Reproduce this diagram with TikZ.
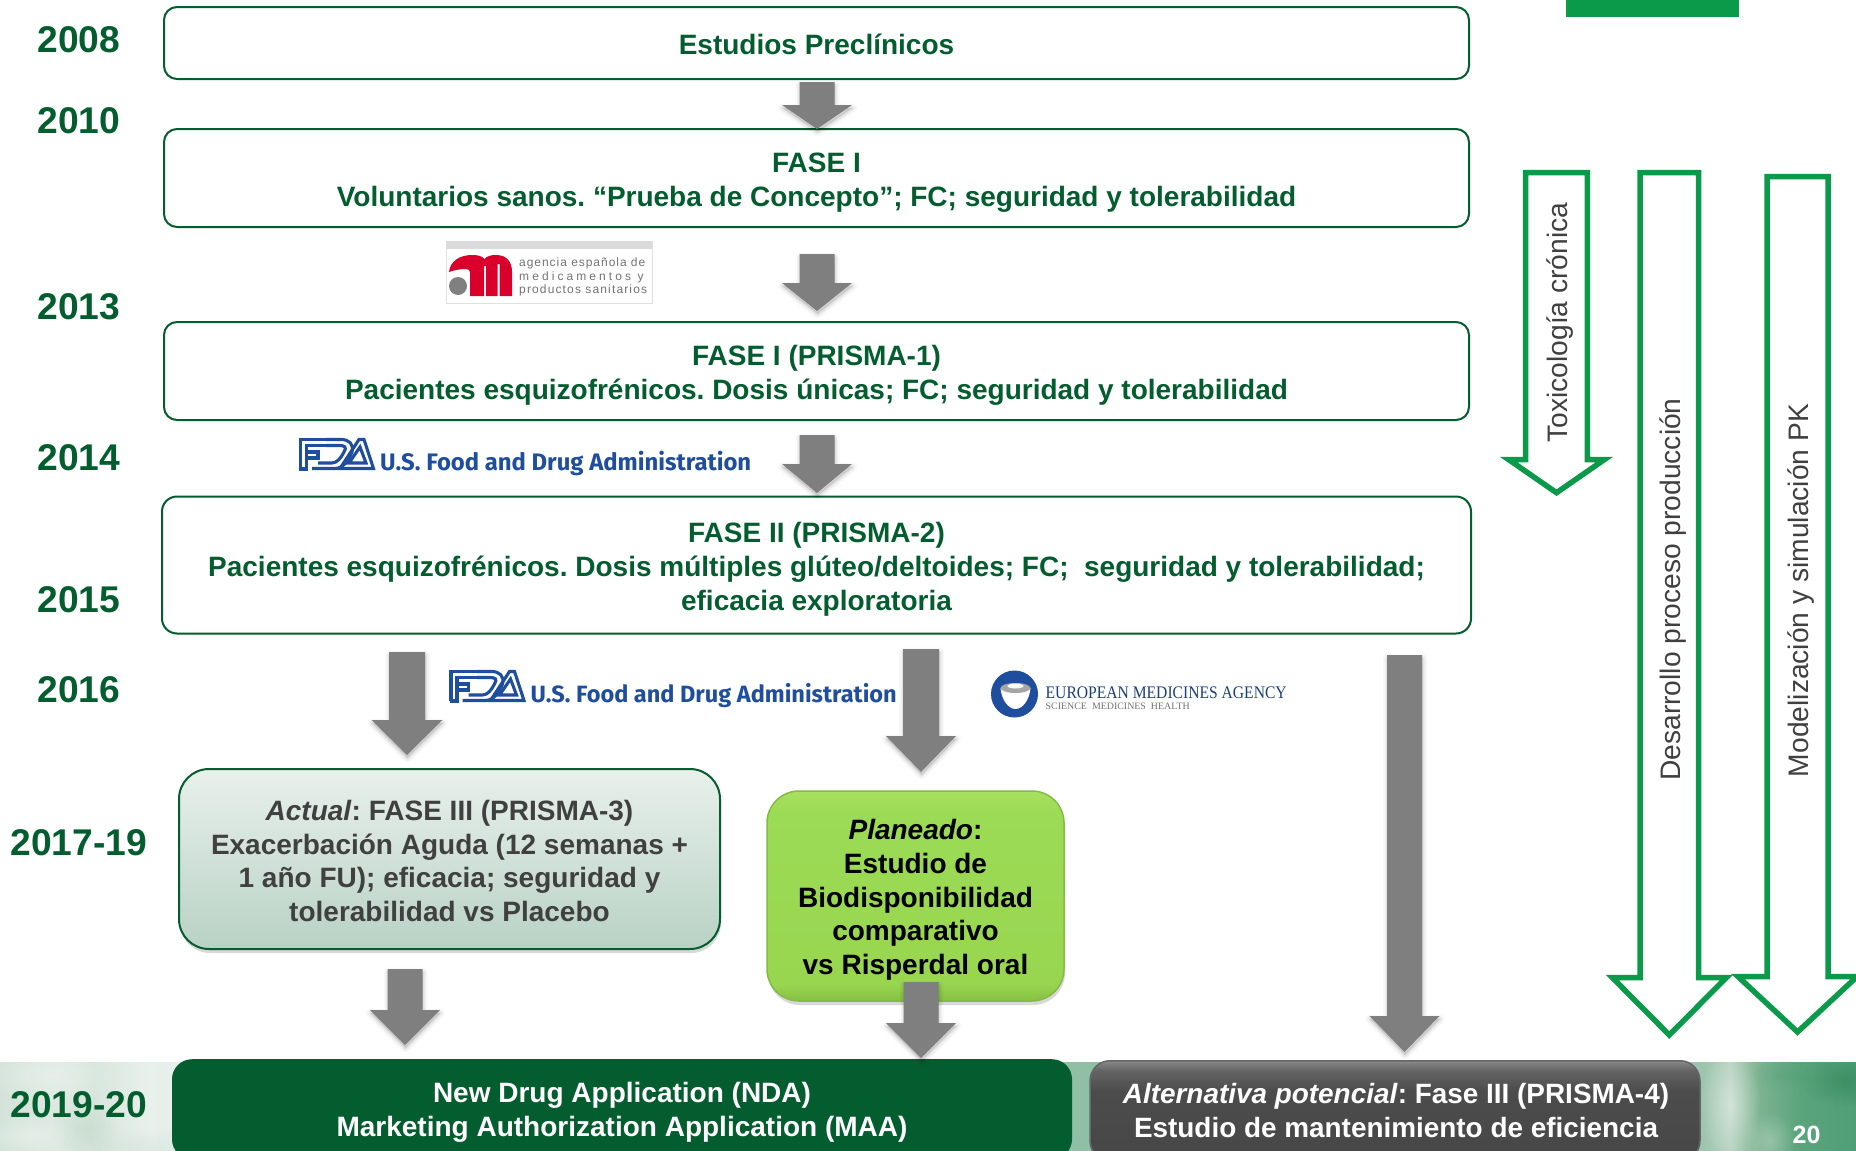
\documentclass[tikz,border=0pt]{standalone}
\usepackage{fontspec}
\setmainfont{Liberation Sans}
\newfontfamily\aempsA[LetterSpace=8]{Liberation Sans}
\newfontfamily\aempsB[LetterSpace=25.7]{Liberation Sans}
\newfontfamily\aempsC[LetterSpace=9.5]{Liberation Sans}
\newfontfamily\fdafont{Fira Sans}
\newfontfamily\emafont{Liberation Serif}
\usetikzlibrary{calc,shadows,fadings}
\tikzfading[name=softblob,inner color=transparent!0,outer color=transparent!100]
\definecolor{dkgreen}{HTML}{045D2E}
\definecolor{brgreen}{HTML}{0A9A4A}
\definecolor{arrowgray}{HTML}{7F7F7F}
\definecolor{txtgray}{HTML}{404040}
\definecolor{fdablue}{HTML}{1F4E9E}
\definecolor{lime}{HTML}{9CDB55}
\definecolor{aemsred}{HTML}{D9002C}
\definecolor{bsa}{HTML}{D3E3D9}
\definecolor{bsb}{HTML}{DCE9E1}
\definecolor{bsc}{HTML}{D6E5DB}
\definecolor{bsd}{HTML}{E8F0EC}
\definecolor{bse}{HTML}{8FBFA5}
\definecolor{bsf}{HTML}{9DC5AE}
\definecolor{bsg}{HTML}{B4D0BE}
\definecolor{bsh}{HTML}{7CB391}
\definecolor{bsi}{HTML}{5AA47C}
\definecolor{bsj}{HTML}{4F9E75}
\definecolor{gsa}{HTML}{474747}
\definecolor{gsb}{HTML}{4C4C4C}
\definecolor{gsc}{HTML}{636363}
\definecolor{gsd}{HTML}{8A8A8A}
\definecolor{lsa}{HTML}{86C043}
\definecolor{lsb}{HTML}{98D650}
\definecolor{lsc}{HTML}{9CDB55}
\definecolor{lsd}{HTML}{A8E05F}
\pgfdeclarehorizontalshading{bandshade}{100bp}{
 color(0bp)=(bsa); color(25bp)=(bsa); color(26.6bp)=(bsb);
 color(27.5bp)=(bsc); color(29bp)=(bsd); color(54bp)=(bse);
 color(57.5bp)=(bse); color(70.9bp)=(bsf); color(71.6bp)=(bsg);
 color(72.4bp)=(bsh); color(73.5bp)=(bsi); color(75bp)=(bsj); color(100bp)=(bsj)}
\pgfdeclareverticalshading{grayboxshade}{100bp}{
 color(0bp)=(gsa); color(25bp)=(gsa); color(60bp)=(gsb);
 color(70bp)=(gsc); color(75bp)=(gsd); color(100bp)=(gsd)}
\pgfdeclareverticalshading{limeshade}{100bp}{
 color(0bp)=(lsa); color(25bp)=(lsa); color(29bp)=(lsb);
 color(70bp)=(lsc); color(75bp)=(lsd); color(100bp)=(lsd)}
\newcommand{\blockarrow}[5]{%
 \foreach \wd/\op in {9/.025,6/.035,3/.05}{%
 \path[fill=black,draw=black,line width=\wd pt,opacity=\op,line join=round,transform canvas={xshift=.5pt,yshift=-3pt}]
  ($(#1)+(-#3,0)$) -- ($(#1)+(#3,0)$) -- ($(#2)+(#3,-#5)$) -- ($(#2)+(#4,-#5)$) -- (#2) -- ($(#2)+(-#4,-#5)$) -- ($(#2)+(-#3,-#5)$) -- cycle;}
 \fill[arrowgray]
  ($(#1)+(-#3,0)$) -- ($(#1)+(#3,0)$) -- ($(#2)+(#3,-#5)$) -- ($(#2)+(#4,-#5)$) -- (#2) -- ($(#2)+(-#4,-#5)$) -- ($(#2)+(-#3,-#5)$) -- cycle;}
\newcommand{\firststrut}[1]{\rule{0pt}{#1pt}}
\tikzset{
 x=1pt,y=-1pt,
 phasebox/.style={draw=dkgreen,line width=2pt,rounded corners=13pt,fill=white,text=dkgreen,align=center,inner sep=0pt,
   font=\fontsize{28}{34}\selectfont\bfseries\frenchspacing},
 yearlabel/.style={text=dkgreen,anchor=base,inner sep=0pt,font=\fontsize{37.2}{40}\selectfont\bfseries},
 vlabel/.style={rotate=90,anchor=base,inner sep=0pt,text=txtgray,font=\fontsize{28.2}{30}\selectfont},
 greenarrow/.style={draw=brgreen,line width=5.5pt,miter limit=10,fill=none},
 fdastroke/.style={draw=fdablue,line width=3.1pt,line join=miter},
 streak/.style={fill=white,path fading=softblob},
 pics/fdalogo/.style={code={
   \draw[fdastroke] (1.5,31)--(1.5,1.5)--(27,1.5) (7.5,31)--(7.5,7.5)--(27,7.5) (0,31)--(9,31) (7.5,14)--(19,14)--(19,20)--(7.5,20);
   \draw[fdastroke] (13,30.5)--(36,30.5) .. controls (44,30.5) and (50,22) .. (53,14) .. controls (55,6) and (50,1.5) .. (42,1.5) -- (27,1.5);
   \draw[fdastroke] (19,25)--(33,25) .. controls (38,25) and (42,20) .. (45,14) .. controls (48,9) and (46,7.5) .. (40,7.5) -- (27,7.5);
   \draw[fdastroke] (41,30.5)--(60,1.5)--(65,1.5)--(74.5,30.5)--cycle;
   \draw[fdastroke] (50,25)--(61,9)--(67,25)--cycle;
   \node[anchor=base west,inner sep=0pt,text=fdablue] (txt) at (81,32)
     {\resizebox{#1}{!}{\fdafont\fontsize{24}{26}\selectfont\bfseries U.S. Food and Drug Administration}};
 }}
}
\begin{document}
\begin{tikzpicture}
\useasboundingbox (0,0) rectangle (1856,1151);
\clip (0,0) rectangle (1856,1151);
\fill[white] (0,0) rectangle (1856,1151);
% top green bar and footer band
\fill[brgreen] (1566,0) rectangle (1739,17);
\shade[shading=bandshade] (0,1062) rectangle (1856,1151);
\begin{scope}
\clip (0,1062) rectangle (1856,1151);
\fill[streak,opacity=.3] (50,1075) ellipse (70 and 32);
\fill[streak,opacity=.3] (30,1135) ellipse (50 and 22);
\fill[dkgreen,path fading=softblob,opacity=.06] (85,1130) ellipse (35 and 28);
\fill[dkgreen,path fading=softblob,opacity=.05] (150,1150) ellipse (60 and 22);
\fill[streak,opacity=.4] (1730,1105) ellipse (30 and 60);
\fill[streak,opacity=.25] (1770,1140) ellipse (25 and 28);
\fill[dkgreen,path fading=softblob,opacity=.25] (1845,1080) ellipse (45 and 26);
\fill[dkgreen,path fading=softblob,opacity=.08] (1780,1075) ellipse (30 and 15);
\end{scope}
% phases
\node[phasebox,minimum width=1305pt,minimum height=72pt] (est) at (816.5,43) {\firststrut{23}Estudios Preclínicos};
\node[phasebox,minimum width=1305pt,minimum height=98pt] (f1) at (816.5,178) {\firststrut{28}FASE I\\Voluntarios sanos. “Prueba de Concepto”; FC; seguridad y tolerabilidad};
\node[phasebox,minimum width=1305pt,minimum height=98pt] (f1b) at (816.5,371) {\firststrut{28}FASE I (PRISMA-1)\\Pacientes esquizofrénicos. Dosis únicas; FC; seguridad y tolerabilidad};
\node[phasebox,rounded corners=15pt,minimum width=1309pt,minimum height=137pt] (f2) at (816.5,565) {\firststrut{28}FASE II (PRISMA-2)\\Pacientes esquizofrénicos. Dosis múltiples glúteo/deltoides; FC;\ \ seguridad y tolerabilidad;\\eficacia exploratoria};
\node[draw=dkgreen,line width=2pt,rounded corners=30pt,top color=dkgreen!9!white,bottom color=dkgreen!28!white,
  drop shadow={shadow xshift=1pt,shadow yshift=-4pt,opacity=.3},text=txtgray,align=center,inner sep=0pt,
  minimum width=541pt,minimum height=180pt,font=\fontsize{28}{33.6}\selectfont\bfseries\frenchspacing] (f3) at (449.5,859)
  {\firststrut{24}\textit{Actual}: FASE III (PRISMA-3)\\Exacerbación Aguda (12 semanas +\\1 año FU); eficacia; seguridad y\\tolerabilidad vs Placebo};
\node[draw=lime!85!black,line width=1.5pt,rounded corners=32pt,shading=limeshade,
  drop shadow={shadow xshift=1pt,shadow yshift=-4pt,opacity=.3},text=black,align=center,inner sep=0pt,
  minimum width=297pt,minimum height=210pt,font=\fontsize{28}{33.6}\selectfont\bfseries\frenchspacing] (bio) at (915.5,896)
  {\firststrut{28}\textit{Planeado}:\\Estudio de\\Biodisponibilidad\\comparativo\\vs Risperdal oral};
\node[fill=dkgreen,rounded corners=20pt,inner sep=0pt,minimum width=900pt,minimum height=100pt,anchor=north] (nda) at (622,1059) {};
\node[text=white,align=center,inner sep=0pt,font=\fontsize{28}{34}\selectfont\bfseries\frenchspacing] (ndatxt) at (622,1112.5) {New Drug Application (NDA)\\Marketing Authorization Application (MAA)};
\node[draw=black!60,line width=1.5pt,rounded corners=20pt,shading=grayboxshade,inner sep=0pt,minimum width=610pt,minimum height=100pt,anchor=north,
  drop shadow={shadow xshift=0pt,shadow yshift=-2pt,opacity=.3}] (alt) at (1395,1060) {};
\node[text=white,align=center,inner sep=0pt,font=\fontsize{27.9}{34}\selectfont\bfseries\frenchspacing] (alttxt) at (1396,1110.5) {\textit{Alternativa potencial}: Fase III (PRISMA-4)\\Estudio de mantenimiento de eficiencia};
\node[anchor=base,inner sep=0pt,text=white,font=\fontsize{25}{27}\selectfont\bfseries] (pg) at (1806.5,1143) {20};
% years
\node[yearlabel] (y08) at (78.7,52) {2008};
\node[yearlabel] (y10) at (78.7,133) {2010};
\node[yearlabel] (y13) at (78.7,319) {2013};
\node[yearlabel] (y14) at (78.7,470) {2014};
\node[yearlabel] (y15) at (78.7,612) {2015};
\node[yearlabel] (y16) at (78.7,702) {2016};
\node[yearlabel] (y17) at (78.7,855) {2017-19};
\node[yearlabel] (y19) at (78.7,1117) {2019-20};
% grey block arrows
\coordinate (a1s) at (817,82);   \coordinate (a1e) at (817,129);
\coordinate (a2s) at (817,254);  \coordinate (a2e) at (817,311);
\coordinate (a3s) at (817,435);  \coordinate (a3e) at (817,493);
\coordinate (a4s) at (407,652);  \coordinate (a4e) at (407,755);
\coordinate (a5s) at (921,649);  \coordinate (a5e) at (921,772);
\coordinate (a6s) at (405,969);  \coordinate (a6e) at (405,1045);
\coordinate (a7s) at (921,982);  \coordinate (a7e) at (921,1058);
\coordinate (a8s) at (1404.5,655); \coordinate (a8e) at (1404.5,1052);
\blockarrow{a1s}{a1e}{17.5}{35}{24}
\blockarrow{a2s}{a2e}{17.5}{35}{28}
\blockarrow{a3s}{a3e}{17.5}{35}{29}
\blockarrow{a4s}{a4e}{18}{35.5}{35}
\blockarrow{a5s}{a5e}{18}{35}{36}
\blockarrow{a6s}{a6e}{17.5}{35}{35}
\blockarrow{a7s}{a7e}{17.5}{35}{35}
\blockarrow{a8s}{a8e}{17.5}{35}{36}
% green outlined arrows
\draw[greenarrow] (1525.7,172.7) -- (1587.3,172.7) -- (1587.3,459.7) -- (1604.2,459.7) -- (1556.5,492.7) -- (1508.8,459.7) -- (1525.7,459.7) -- cycle;
\draw[greenarrow] (1640,172.7) -- (1698.5,172.7) -- (1698.5,977.7) -- (1726.2,977.7) -- (1669.3,1035) -- (1612.4,977.7) -- (1640,977.7) -- cycle;
\draw[greenarrow] (1767,176.7) -- (1828,176.7) -- (1828,976.7) -- (1856.9,976.7) -- (1797.5,1032) -- (1738.1,976.7) -- (1767,976.7) -- cycle;
\node[vlabel] (tox) at (1567,322.5) {Toxicología crónica};
\node[vlabel] (des) at (1680,589.5) {Desarrollo proceso producción};
\node[vlabel] (mod) at (1808,590.5) {Modelización y simulación PK};
% AEMPS logo
\draw[fill=white,draw=black!12,line width=.7pt] (446,241) rectangle (652,303);
\fill[black!14] (446,241) rectangle (652,249);
\fill[aemsred] (449,272) .. controls (450,261) and (460,255) .. (472,255) .. controls (478,255) and (482,256) .. (484.5,259) .. controls (487,256) and (491,255) .. (496,255) .. controls (507,255) and (512,262) .. (512,272) -- (512,296) -- (499.5,296) -- (499.5,264) -- (497.5,264) -- (497.5,296) -- (486,296) -- (486,266) -- (484,266) -- (484,296) -- (470,296) -- (470,272) .. controls (470,270) and (468,269) .. (466,269) .. controls (460,269) and (455,270) .. (449,272) -- cycle;
\fill[black!50] (458,286) circle (9);
\node[anchor=base west,inner sep=0pt,text=black!55,font=\aempsA\fontsize{12}{12}\selectfont] (ae1) at (519,266) {agencia española de};
\node[anchor=base west,inner sep=0pt,text=black!55,font=\aempsB\fontsize{12}{12}\selectfont] (ae2) at (519,280) {medicamentos y};
\node[anchor=base west,inner sep=0pt,text=black!55,font=\aempsC\fontsize{12}{12}\selectfont] (ae3) at (519,293) {productos sanitarios};
% FDA logos
\pic (fdaA) at (299,438) {fdalogo=371pt};
\pic (fdaB) at (449.5,670) {fdalogo=366pt};
% EMA logo
\fill[fdablue] (1014.5,694) circle (23.5);
\fill[white] (1000.5,688) .. controls (1001.5,700) and (1008.5,709) .. (1015.5,709) .. controls (1022.5,709) and (1029.5,700) .. (1030.5,688) -- cycle;
\fill[black!35] (1015.5,688) ellipse (15 and 5);
\fill[white] (1015.5,686) ellipse (8 and 2.5);
\node[anchor=base west,inner sep=0pt,text=fdablue!80!black] (ema1) at (1045.5,698) {\resizebox{241pt}{11.7pt}{\emafont\fontsize{18}{20}\selectfont EUROPEAN MEDICINES AGENCY}};
\node[anchor=base west,inner sep=0pt,text=black!55] (ema2) at (1045.5,709) {\resizebox{144pt}{6.5pt}{\emafont\fontsize{10}{12}\selectfont SCIENCE\ \ MEDICINES\ \ HEALTH}};
\end{tikzpicture}
\end{document}
